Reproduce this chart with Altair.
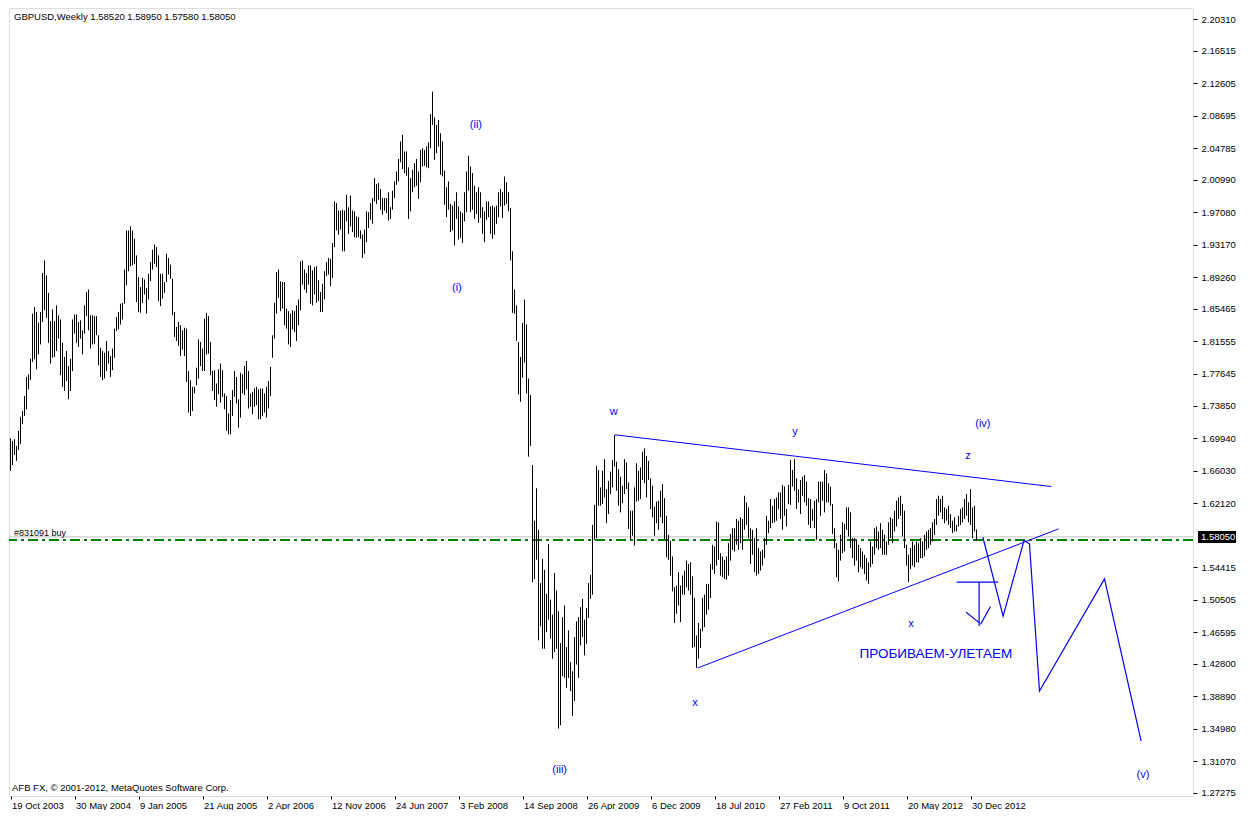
import altair as alt
import pandas as pd

# ---------------- data ----------------
START_MS = int(pd.Timestamp("2003-10-19", tz="UTC").value // 10**6)   # first weekly bar
WEEK_MS = 7 * 24 * 3600 * 1000

def wk(i):
    """bar index (weeks from 19 Oct 2003) -> epoch ms"""
    return START_MS + i * WEEK_MS

high = [
    1.699,1.696,1.698,1.690,1.708,1.725,1.732,1.750,1.773,1.776,
    1.795,1.849,1.857,1.851,1.838,1.851,1.898,1.913,1.895,1.874,
    1.840,1.854,1.840,1.859,1.847,1.842,1.814,1.797,1.804,1.786,
    1.795,1.842,1.848,1.848,1.839,1.841,1.829,1.859,1.875,1.878,
    1.847,1.847,1.846,1.846,1.823,1.808,1.804,1.802,1.816,1.804,
    1.798,1.807,1.831,1.845,1.851,1.861,1.862,1.902,1.949,1.949,
    1.954,1.949,1.939,1.919,1.893,1.881,1.892,1.890,1.880,1.897,
    1.911,1.926,1.932,1.929,1.919,1.897,1.897,1.887,1.921,1.916,
    1.908,1.891,1.851,1.833,1.839,1.835,1.829,1.832,1.831,1.780,
    1.769,1.761,1.761,1.784,1.818,1.815,1.807,1.843,1.850,1.846,
    1.815,1.780,1.781,1.765,1.782,1.789,1.781,1.753,1.750,1.729,
    1.745,1.757,1.780,1.773,1.746,1.778,1.776,1.786,1.792,1.780,
    1.753,1.755,1.759,1.761,1.758,1.759,1.759,1.753,1.761,1.768,
    1.785,1.823,1.862,1.899,1.902,1.888,1.887,1.887,1.855,1.852,
    1.849,1.853,1.852,1.859,1.866,1.912,1.913,1.902,1.898,1.907,
    1.907,1.901,1.905,1.906,1.889,1.875,1.885,1.900,1.911,1.916,
    1.915,1.934,1.984,1.982,1.973,1.973,1.974,1.973,1.992,1.977,
    1.991,1.973,1.972,1.966,1.965,1.949,1.944,1.950,1.972,1.971,
    1.982,1.988,2.012,2.005,2.006,1.999,1.988,1.988,1.988,1.995,
    1.977,1.997,2.008,2.020,2.035,2.056,2.064,2.044,2.044,2.025,
    2.012,2.022,2.030,2.035,2.020,2.046,2.048,2.046,2.050,2.055,
    2.089,2.116,2.085,2.076,2.082,2.066,2.056,2.021,2.001,2.008,
    1.981,1.979,1.984,1.995,1.978,1.972,1.970,1.995,2.020,2.039,
    2.026,2.018,2.003,1.995,2.001,1.995,1.977,1.972,1.984,1.984,
    1.978,1.979,1.977,1.979,1.995,1.999,1.995,2.014,2.007,1.995,
    1.976,1.924,1.878,1.859,1.815,1.797,1.838,1.866,1.836,1.771,
    1.751,1.667,1.600,1.639,1.589,1.525,1.554,1.541,1.512,1.572,
    1.505,1.487,1.537,1.516,1.491,1.453,1.484,1.498,1.448,1.468,
    1.430,1.419,1.460,1.479,1.484,1.496,1.506,1.481,1.495,1.525,
    1.535,1.595,1.619,1.666,1.661,1.640,1.660,1.674,1.638,1.648,
    1.659,1.673,1.703,1.671,1.662,1.653,1.642,1.674,1.670,1.646,
    1.612,1.612,1.640,1.669,1.660,1.664,1.683,1.687,1.678,1.672,
    1.651,1.642,1.617,1.623,1.624,1.636,1.644,1.627,1.606,1.583,
    1.576,1.557,1.520,1.522,1.538,1.522,1.534,1.540,1.552,1.548,
    1.550,1.533,1.507,1.462,1.477,1.470,1.507,1.511,1.524,1.524,
    1.548,1.571,1.569,1.599,1.598,1.561,1.557,1.553,1.557,1.573,
    1.584,1.591,1.591,1.602,1.600,1.604,1.602,1.630,1.622,1.616,
    1.591,1.589,1.579,1.591,1.567,1.563,1.565,1.579,1.606,1.600,
    1.626,1.618,1.626,1.628,1.634,1.634,1.643,1.641,1.614,1.643,
    1.673,1.661,1.674,1.651,1.638,1.649,1.653,1.655,1.647,1.627,
    1.626,1.614,1.624,1.626,1.647,1.647,1.647,1.661,1.657,1.645,
    1.641,1.620,1.591,1.573,1.565,1.583,1.598,1.596,1.616,1.616,
    1.610,1.579,1.579,1.577,1.571,1.567,1.563,1.559,1.555,1.550,
    1.575,1.569,1.591,1.593,1.587,1.597,1.589,1.583,1.575,1.598,
    1.604,1.602,1.612,1.624,1.628,1.630,1.620,1.612,1.571,1.559,
    1.567,1.575,1.571,1.575,1.573,1.579,1.575,1.583,1.587,1.589,
    1.591,1.598,1.602,1.626,1.630,1.626,1.630,1.616,1.614,1.618,
    1.608,1.600,1.604,1.595,1.606,1.614,1.616,1.626,1.632,1.622,
    1.638,1.616,1.618,1.5895,
]

low = [
    1.660,1.667,1.679,1.672,1.685,1.692,1.716,1.726,1.734,1.758,
    1.769,1.791,1.794,1.782,1.800,1.812,1.839,1.853,1.844,1.814,
    1.789,1.796,1.797,1.804,1.819,1.775,1.761,1.756,1.768,1.746,
    1.756,1.780,1.825,1.814,1.809,1.819,1.800,1.825,1.846,1.829,
    1.807,1.812,1.813,1.823,1.787,1.773,1.769,1.771,1.780,1.789,
    1.773,1.781,1.796,1.828,1.830,1.836,1.842,1.861,1.883,1.900,
    1.906,1.907,1.909,1.863,1.851,1.850,1.862,1.872,1.849,1.866,
    1.888,1.902,1.909,1.905,1.864,1.858,1.867,1.874,1.887,1.896,
    1.891,1.847,1.821,1.816,1.810,1.798,1.806,1.798,1.767,1.730,
    1.726,1.732,1.753,1.763,1.771,1.786,1.780,1.780,1.800,1.801,
    1.775,1.756,1.745,1.737,1.752,1.742,1.749,1.734,1.708,1.704,
    1.704,1.726,1.749,1.741,1.712,1.724,1.753,1.751,1.758,1.735,
    1.737,1.728,1.737,1.739,1.722,1.722,1.726,1.730,1.724,1.735,
    1.750,1.796,1.819,1.849,1.868,1.852,1.855,1.835,1.831,1.812,
    1.809,1.830,1.827,1.816,1.835,1.853,1.884,1.878,1.874,1.884,
    1.861,1.859,1.872,1.862,1.864,1.851,1.851,1.866,1.894,1.896,
    1.882,1.892,1.929,1.949,1.944,1.950,1.924,1.924,1.960,1.945,
    1.954,1.947,1.941,1.940,1.941,1.939,1.916,1.921,1.935,1.952,
    1.962,1.957,1.984,1.981,1.986,1.974,1.968,1.973,1.970,1.961,
    1.963,1.974,1.988,2.004,2.008,2.031,2.023,2.018,2.015,1.963,
    1.972,1.995,2.001,2.003,1.987,2.007,2.026,2.027,2.025,2.024,
    2.048,2.076,2.034,2.042,2.050,2.016,2.014,1.980,1.965,1.974,
    1.947,1.949,1.931,1.963,1.938,1.940,1.934,1.960,1.971,1.997,
    1.971,1.974,1.963,1.969,1.958,1.964,1.945,1.935,1.962,1.965,
    1.945,1.939,1.944,1.957,1.965,1.978,1.964,1.979,1.981,1.972,
    1.913,1.850,1.849,1.816,1.752,1.743,1.772,1.790,1.753,1.677,
    1.690,1.526,1.530,1.553,1.456,1.473,1.446,1.446,1.466,1.481,
    1.458,1.434,1.442,1.446,1.350,1.354,1.413,1.411,1.399,1.411,
    1.395,1.365,1.383,1.427,1.411,1.450,1.460,1.438,1.452,1.483,
    1.506,1.511,1.577,1.579,1.618,1.618,1.620,1.628,1.597,1.608,
    1.632,1.640,1.665,1.636,1.618,1.610,1.621,1.632,1.638,1.590,
    1.577,1.582,1.570,1.623,1.624,1.626,1.649,1.645,1.628,1.649,
    1.614,1.604,1.582,1.597,1.589,1.604,1.597,1.578,1.556,1.553,
    1.534,1.515,1.477,1.488,1.498,1.478,1.511,1.511,1.520,1.516,
    1.511,1.447,1.448,1.423,1.434,1.447,1.467,1.472,1.487,1.493,
    1.507,1.541,1.536,1.546,1.553,1.534,1.532,1.530,1.529,1.534,
    1.552,1.565,1.563,1.571,1.565,1.573,1.565,1.589,1.595,1.579,
    1.548,1.559,1.538,1.534,1.536,1.540,1.546,1.555,1.571,1.585,
    1.591,1.597,1.598,1.600,1.614,1.602,1.589,1.606,1.593,1.620,
    1.619,1.641,1.636,1.614,1.622,1.608,1.630,1.622,1.618,1.595,
    1.591,1.600,1.591,1.577,1.622,1.606,1.624,1.610,1.622,1.622,
    1.618,1.584,1.567,1.532,1.527,1.552,1.561,1.563,1.589,1.581,
    1.567,1.555,1.546,1.552,1.538,1.544,1.542,1.536,1.528,1.524,
    1.544,1.548,1.559,1.567,1.565,1.567,1.559,1.559,1.559,1.571,
    1.579,1.573,1.587,1.593,1.602,1.606,1.581,1.567,1.546,1.526,
    1.542,1.546,1.544,1.550,1.550,1.555,1.555,1.557,1.565,1.567,
    1.571,1.575,1.583,1.595,1.606,1.610,1.602,1.597,1.600,1.595,
    1.591,1.585,1.587,1.587,1.593,1.595,1.598,1.602,1.606,1.598,
    1.595,1.579,1.587,1.5758,
]
assert len(high) == len(low)

# price axis labels (as printed by the terminal) and date labels (bar index)
price_ticks = [2.20310, 2.16515, 2.12605, 2.08695, 2.04785, 2.00990, 1.97080,
               1.93170, 1.89260, 1.85465, 1.81555, 1.77645, 1.73850, 1.69940,
               1.66030, 1.62120, 1.54415, 1.50505, 1.46595, 1.42800, 1.38890,
               1.34980, 1.31070, 1.27275]
date_tick_bars = [0, 32, 64, 96, 128, 160, 192, 224, 256, 288, 320, 352, 384, 416, 448, 480]

last_price = 1.58050
order_price = 1.5768
header = "GBPUSD,Weekly  1.58520 1.58950 1.57580 1.58050"
footer = "AFB FX, \u00a9 2001-2012, MetaQuotes Software Corp."
order_label = "#831091 buy"

# trend lines (bar index, price)
trend_seg = ["upper", "upper", "lower", "lower"]
trend_idx = [302.2, 520.3, 343.65, 524.0]
trend_px = [1.7033, 1.6411, 1.4229, 1.5901]

# projected path
path_idx = [486.2, 496.3, 506.8, 509.5, 514.5, 547.0, 565.3]
path_px = [1.5801, 1.4851, 1.5766, 1.5720, 1.3951, 1.5300, 1.3353]

# arrow symbol segments: (i1, p1, i2, p2)
arrow_i1 = [473.1, 484.3, 477.8, 490.0]
arrow_p1 = [1.5262, 1.5262, 1.4898, 1.4968]
arrow_i2 = [493.9, 484.3, 484.3, 485.0]
arrow_p2 = [1.5262, 1.4734, 1.4774, 1.4753]

# wave labels
lab_text = ["(ii)", "(i)", "w", "(iii)", "x", "y", "(iv)", "z", "x", "(v)"]
lab_idx = [232.7, 223.2, 301.6, 274.6, 342.2, 392.2, 486.2, 478.7, 450.2, 566.2]
lab_px = [2.0764, 1.8793, 1.7303, 1.2997, 1.3807, 1.7068, 1.7162, 1.6775, 1.4757, 1.2939]
big_text = "ПРОБИВАЕМ-УЛЕТАЕМ"
big_idx, big_px = 462.7, 1.4394

# ---------------- chart ----------------
W, H = 1184, 788
FONT = "Liberation Sans"
BLUE = "#0000ff"
LEFT = -0.75   # bar index at the left edge of the plot (2 px per weekly bar)

xs = alt.Scale(type="utc", domain=[wk(LEFT), wk(LEFT + W / 2)], nice=False)
ys = alt.Scale(domain=[1.2689, 2.2166], nice=False, zero=False)

xaxis = alt.Axis(values=[wk(i) for i in date_tick_bars],
                 labelExpr="utcFormat(datum.value, '%-d %b %Y')",
                 labelAlign="left", labelBaseline="top", labelOffset=1, labelPadding=1,
                 tickSize=3, tickColor="black", domain=False, grid=False, labelFlush=False,
                 labelOverlap=False, labelBound=False, labelFont=FONT, labelFontSize=9.5,
                 labelColor="black", title=None)
yaxis = alt.Axis(orient="right", values=price_ticks, format=".5f", labelAlign="left",
                 labelBaseline="middle", tickSize=4, labelPadding=4, tickColor="black",
                 domain=False, grid=False, labelOverlap=False, labelBound=False,
                 labelFlush=False, labelFont=FONT, labelFontSize=9.5, labelColor="black",
                 title=None)

def X(f):
    return alt.X(f, scale=xs, axis=xaxis, title=None)

def Y(f):
    return alt.Y(f, scale=ys, axis=yaxis, title=None)

bars = pd.DataFrame({"t": [wk(i) for i in range(len(high))], "high": high, "low": low})

bar_layer = alt.Chart(bars).mark_rule(color="black", strokeWidth=1).encode(
    x=X("t:T"), y=Y("low:Q"), y2="high:Q")

gray_line = alt.Chart(pd.DataFrame({"p": [last_price]})).mark_rule(
    color="#c0c0c0", strokeWidth=1).encode(y=Y("p:Q"))

green_line = alt.Chart(pd.DataFrame({"p": [order_price]})).mark_rule(
    color="#008000", strokeWidth=2, strokeDash=[10, 4, 3, 4]).encode(y=Y("p:Q"))

order_txt = alt.Chart(pd.DataFrame({"p": [last_price], "s": [order_label]})).mark_text(
    align="left", baseline="middle", dy=-4, font=FONT, fontSize=9, color="black").encode(
    x=alt.value(5), y=Y("p:Q"), text="s:N")

trend = alt.Chart(pd.DataFrame({"seg": trend_seg, "t": [wk(i) for i in trend_idx], "p": trend_px})
                  ).mark_line(color=BLUE, strokeWidth=1).encode(
    x=X("t:T"), y=Y("p:Q"), detail="seg:N")

path = alt.Chart(pd.DataFrame({"k": list(range(len(path_idx))),
                               "t": [wk(i) for i in path_idx], "p": path_px})
                 ).mark_line(color=BLUE, strokeWidth=1.2).encode(
    x=X("t:T"), y=Y("p:Q"), order="k:Q")

arrow = alt.Chart(pd.DataFrame({"t1": [wk(i) for i in arrow_i1], "p1": arrow_p1,
                                "t2": [wk(i) for i in arrow_i2], "p2": arrow_p2})
                  ).mark_rule(color=BLUE, strokeWidth=1.2).encode(
    x=X("t1:T"), x2="t2:T", y=Y("p1:Q"), y2="p2:Q")

labels = alt.Chart(pd.DataFrame({"s": lab_text, "t": [wk(i) for i in lab_idx], "p": lab_px})
                   ).mark_text(color=BLUE, font=FONT, fontSize=11, align="center",
                               baseline="middle").encode(
    x=X("t:T"), y=Y("p:Q"), text="s:N")

big = alt.Chart(pd.DataFrame({"s": [big_text], "t": [wk(big_idx)], "p": [big_px]})
                ).mark_text(color=BLUE, font=FONT, fontSize=13.5, align="center",
                            baseline="middle").encode(
    x=X("t:T"), y=Y("p:Q"), text="s:N")

head = alt.Chart(pd.DataFrame({"s": [header]})).mark_text(
    align="left", baseline="middle", font=FONT, fontSize=9.5, color="black").encode(
    x=alt.value(5), y=alt.value(9), text="s:N")

foot = alt.Chart(pd.DataFrame({"s": [footer]})).mark_text(
    align="left", baseline="middle", font=FONT, fontSize=9.5, color="black").encode(
    x=alt.value(3), y=alt.value(H - 8), text="s:N")

price_box = alt.Chart(pd.DataFrame({"p": [last_price]})).mark_rule(
    color="black", strokeWidth=12).encode(
    x=alt.value(W + 5), x2=alt.value(W + 43), y=Y("p:Q"))

price_box_txt = alt.Chart(pd.DataFrame({"p": [last_price], "s": ["1.58050"]})).mark_text(
    align="left", baseline="middle", font=FONT, fontSize=9.5, color="white").encode(
    x=alt.value(W + 8), y=Y("p:Q"), text="s:N")

chart = alt.layer(
    gray_line, green_line, bar_layer, trend, path, arrow, labels, big,
    order_txt, head, foot, price_box, price_box_txt,
).properties(
    width=W, height=H, padding=0,
).configure_view(
    stroke="black", strokeWidth=1, fill="white",
).configure(
    background="white", font=FONT,
)

chart.save("out.html", embed_options={"renderer": "svg", "actions": False})
